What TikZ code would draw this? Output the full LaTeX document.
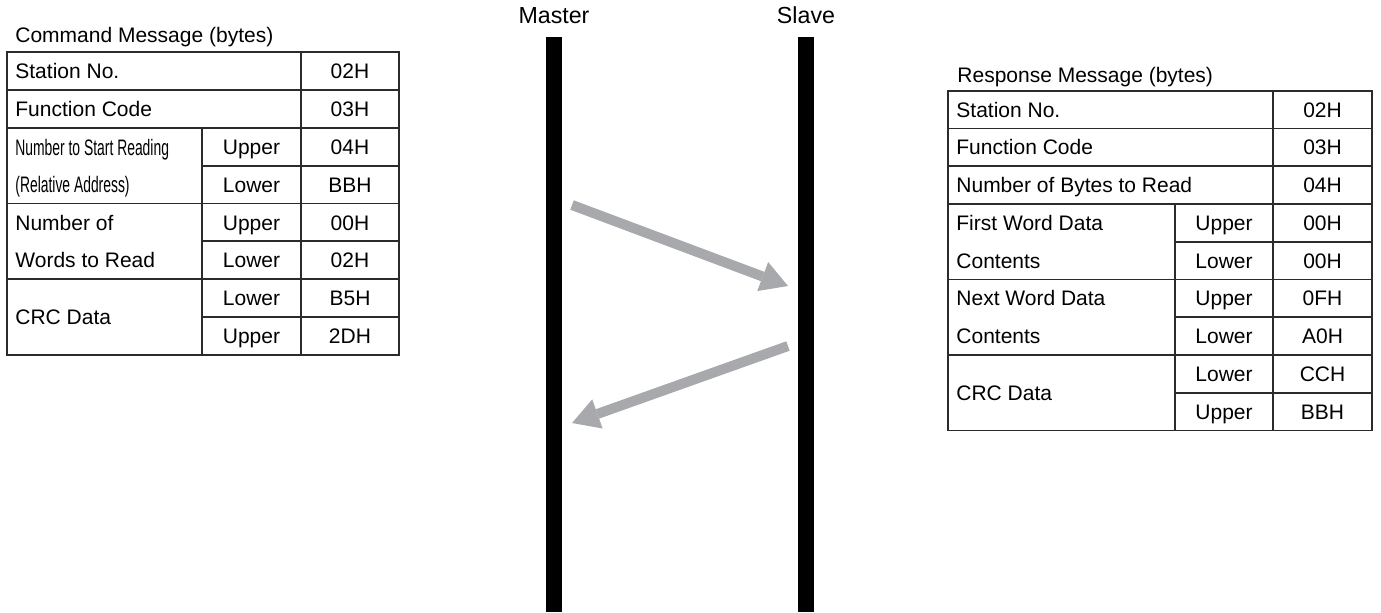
\documentclass[tikz,border=0pt]{standalone}
\usepackage{fontspec}
\setmainfont{Liberation Sans}
\newfontfamily\narrowfont[FakeStretch=0.62]{Liberation Sans}
\usepackage{xcolor}
\usepackage{tikz}
\usetikzlibrary{arrows.meta}
\definecolor{gridline}{HTML}{2B2B2B}
\definecolor{msgarrow}{HTML}{A7A9AC}
\tikzset{
  celltext/.style={inner sep=0pt, text height=7.6pt, text depth=0pt,
    font=\fontsize{10.5}{12.6}\selectfont},
  labeltext/.style={celltext, anchor=west},
  narrowtext/.style={labeltext, font=\narrowfont\fontsize{11.2}{13.4}\selectfont},
  titletext/.style={celltext, anchor=west},
  roletext/.style={inner sep=0pt, text height=8.3pt, text depth=0pt,
    font=\fontsize{11.6}{13.9}\selectfont},
  tableline/.style={draw=gridline, line width=0.85pt},
  lifebar/.style={fill=black},
  msgflow/.style={msgarrow, line width=5pt,
    -{Triangle[length=13.5pt, width=15.5pt, line width=0pt]}}
}
\begin{document}
\begin{tikzpicture}[x=0.5pt, y=-0.5pt]
\useasboundingbox (0,0) rectangle (1381,612);

% lifelines
\node[roletext] (master) at (554,15) {Master};
\node[roletext] (slave) at (806,15) {Slave};
\fill[lifebar] (546,37) rectangle (562,612);
\fill[lifebar] (798,37) rectangle (814,612);

% command message table
\node[titletext] (cmdtitle) at (15,35) {Command Message (bytes)};
\draw[tableline] (7,52.3) rectangle (399,354.7);
\foreach \y in {90.1,127.9,203.5,279.1} \draw[tableline] (7,\y) -- (399,\y);
\foreach \y in {165.7,241.3,316.9} \draw[tableline] (202,\y) -- (399,\y);
\draw[tableline] (301,52.3) -- (301,354.7);
\draw[tableline] (202,127.9) -- (202,354.7);

\node[labeltext] (cstation) at (15,71.2) {Station No.};
\node[labeltext] (cfunc) at (15,109) {Function Code};
\node[narrowtext] (cstart1) at (15,147.8) {Number to Start Reading};
\node[narrowtext] (cstart2) at (15,184.6) {(Relative Address)};
\node[labeltext] (cwords1) at (15,222.4) {Number of};
\node[labeltext] (cwords2) at (15,260.2) {Words to Read};
\node[labeltext] (ccrc) at (15,316.9) {CRC Data};

\node[celltext] (cstartup) at (251.5,146.8) {Upper};
\node[celltext] (cstartlo) at (251.5,184.6) {Lower};
\node[celltext] (cwordsup) at (251.5,222.4) {Upper};
\node[celltext] (cwordslo) at (251.5,260.2) {Lower};
\node[celltext] (ccrclo) at (251.5,298) {Lower};
\node[celltext] (ccrcup) at (251.5,335.8) {Upper};

\node[celltext] (cv1) at (350,71.2) {02H};
\node[celltext] (cv2) at (350,109) {03H};
\node[celltext] (cv3) at (350,146.8) {04H};
\node[celltext] (cv4) at (350,184.6) {BBH};
\node[celltext] (cv5) at (350,222.4) {00H};
\node[celltext] (cv6) at (350,260.2) {02H};
\node[celltext] (cv7) at (350,298) {B5H};
\node[celltext] (cv8) at (350,335.8) {2DH};

% response message table
\node[titletext] (resptitle) at (957,75) {Response Message (bytes)};
\draw[tableline] (948,90.7) rectangle (1372,430.45);
\foreach \y in {128.45,166.2,203.95,279.45,354.95} \draw[tableline] (948,\y) -- (1372,\y);
\foreach \y in {241.7,317.2,392.7} \draw[tableline] (1175,\y) -- (1372,\y);
\draw[tableline] (1273,90.7) -- (1273,430.45);
\draw[tableline] (1175,203.95) -- (1175,430.45);

\node[labeltext] (rstation) at (956,109.6) {Station No.};
\node[labeltext] (rfunc) at (956,147.3) {Function Code};
\node[labeltext] (rbytes) at (956,185.1) {Number of Bytes to Read};
\node[labeltext] (rfirst1) at (956,222.8) {First Word Data};
\node[labeltext] (rfirst2) at (956,260.6) {Contents};
\node[labeltext] (rnext1) at (956,298.3) {Next Word Data};
\node[labeltext] (rnext2) at (956,336.1) {Contents};
\node[labeltext] (rcrc) at (956,392.7) {CRC Data};

\node[celltext] (rfirstup) at (1224,222.8) {Upper};
\node[celltext] (rfirstlo) at (1224,260.6) {Lower};
\node[celltext] (rnextup) at (1224,298.3) {Upper};
\node[celltext] (rnextlo) at (1224,336.1) {Lower};
\node[celltext] (rcrclo) at (1224,373.8) {Lower};
\node[celltext] (rcrcup) at (1224,411.6) {Upper};

\node[celltext] (rv1) at (1322.5,109.6) {02H};
\node[celltext] (rv2) at (1322.5,147.3) {03H};
\node[celltext] (rv3) at (1322.5,185.1) {04H};
\node[celltext] (rv4) at (1322.5,222.8) {00H};
\node[celltext] (rv5) at (1322.5,260.6) {00H};
\node[celltext] (rv6) at (1322.5,298.3) {0FH};
\node[celltext] (rv7) at (1322.5,336.1) {A0H};
\node[celltext] (rv8) at (1322.5,373.8) {CCH};
\node[celltext] (rv9) at (1322.5,411.6) {BBH};

% message flow
\coordinate (cmdout) at (572,205);
\coordinate (cmdin) at (788,286);
\coordinate (respout) at (788,346);
\coordinate (respin) at (572,423);
\draw[msgflow] (cmdout) -- (cmdin);
\draw[msgflow] (respout) -- (respin);
\end{tikzpicture}
\end{document}
